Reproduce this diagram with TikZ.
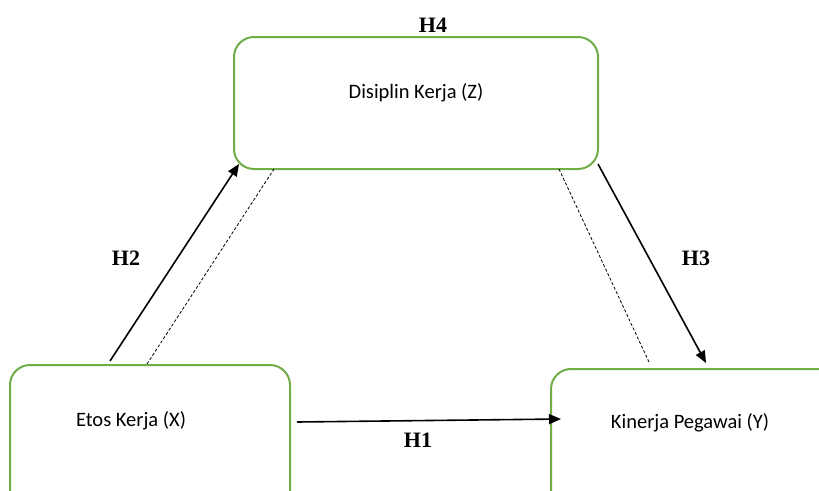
\documentclass[tikz,border=0pt]{standalone}
\usepackage{fontspec}
\setmainfont{Liberation Serif}
\newfontfamily\boxfont{Carlito}
\usetikzlibrary{arrows.meta}
\definecolor{boxgreen}{RGB}{112,173,71}
\tikzset{
  varbox/.style={draw=boxgreen, line width=2pt, rounded corners=20pt, fill=white},
  boxtext/.style={font=\boxfont\fontsize{20.5}{24}\selectfont, inner sep=0pt},
  hlabel/.style={font=\bfseries\fontsize{22}{26}\selectfont, inner sep=0pt},
  arr/.style={-{Triangle[length=12pt,width=10pt]}, line width=1.6pt, black},
  dline/.style={dash pattern=on 3pt off 2pt, line width=0.8pt, black}
}
\begin{document}
\begin{tikzpicture}[x=1pt,y=-1pt]
\useasboundingbox (0,0) rectangle (819,490);
\clip (0,0) rectangle (819,490);
% boxes
\draw[varbox] (234,37) rectangle (598,169);
\draw[varbox] (10,365) rectangle (290,520);
\draw[varbox] (551,369) rectangle (840,520);
\node[boxtext] (z) at (416,93) {Disiplin Kerja (Z)};
\node[boxtext] (x) at (131,421) {Etos Kerja (X)};
\node[boxtext] (y) at (690,423) {Kinerja Pegawai (Y)};
% coordinates
\coordinate (h2s) at (110,361);
\coordinate (h2e) at (239,164);
\coordinate (d1s) at (147,364);
\coordinate (d1e) at (274,169);
\coordinate (h3s) at (598,164);
\coordinate (h3e) at (706,363);
\coordinate (d2s) at (559,169);
\coordinate (d2e) at (649,362);
\coordinate (h1s) at (297,422);
\coordinate (h1e) at (561,419);
% connectors
\draw[arr] (h2s) -- (h2e);
\draw[arr] (h3s) -- (h3e);
\draw[arr] (h1s) -- (h1e);
\draw[dline] (d1s) -- (d1e);
\draw[dline] (d2s) -- (d2e);
% labels
\node[hlabel] (l4) at (433,25) {H4};
\node[hlabel] (l2) at (126,258) {H2};
\node[hlabel] (l3) at (696,258) {H3};
\node[hlabel] (l1) at (418,440) {H1};
\end{tikzpicture}
\end{document}
